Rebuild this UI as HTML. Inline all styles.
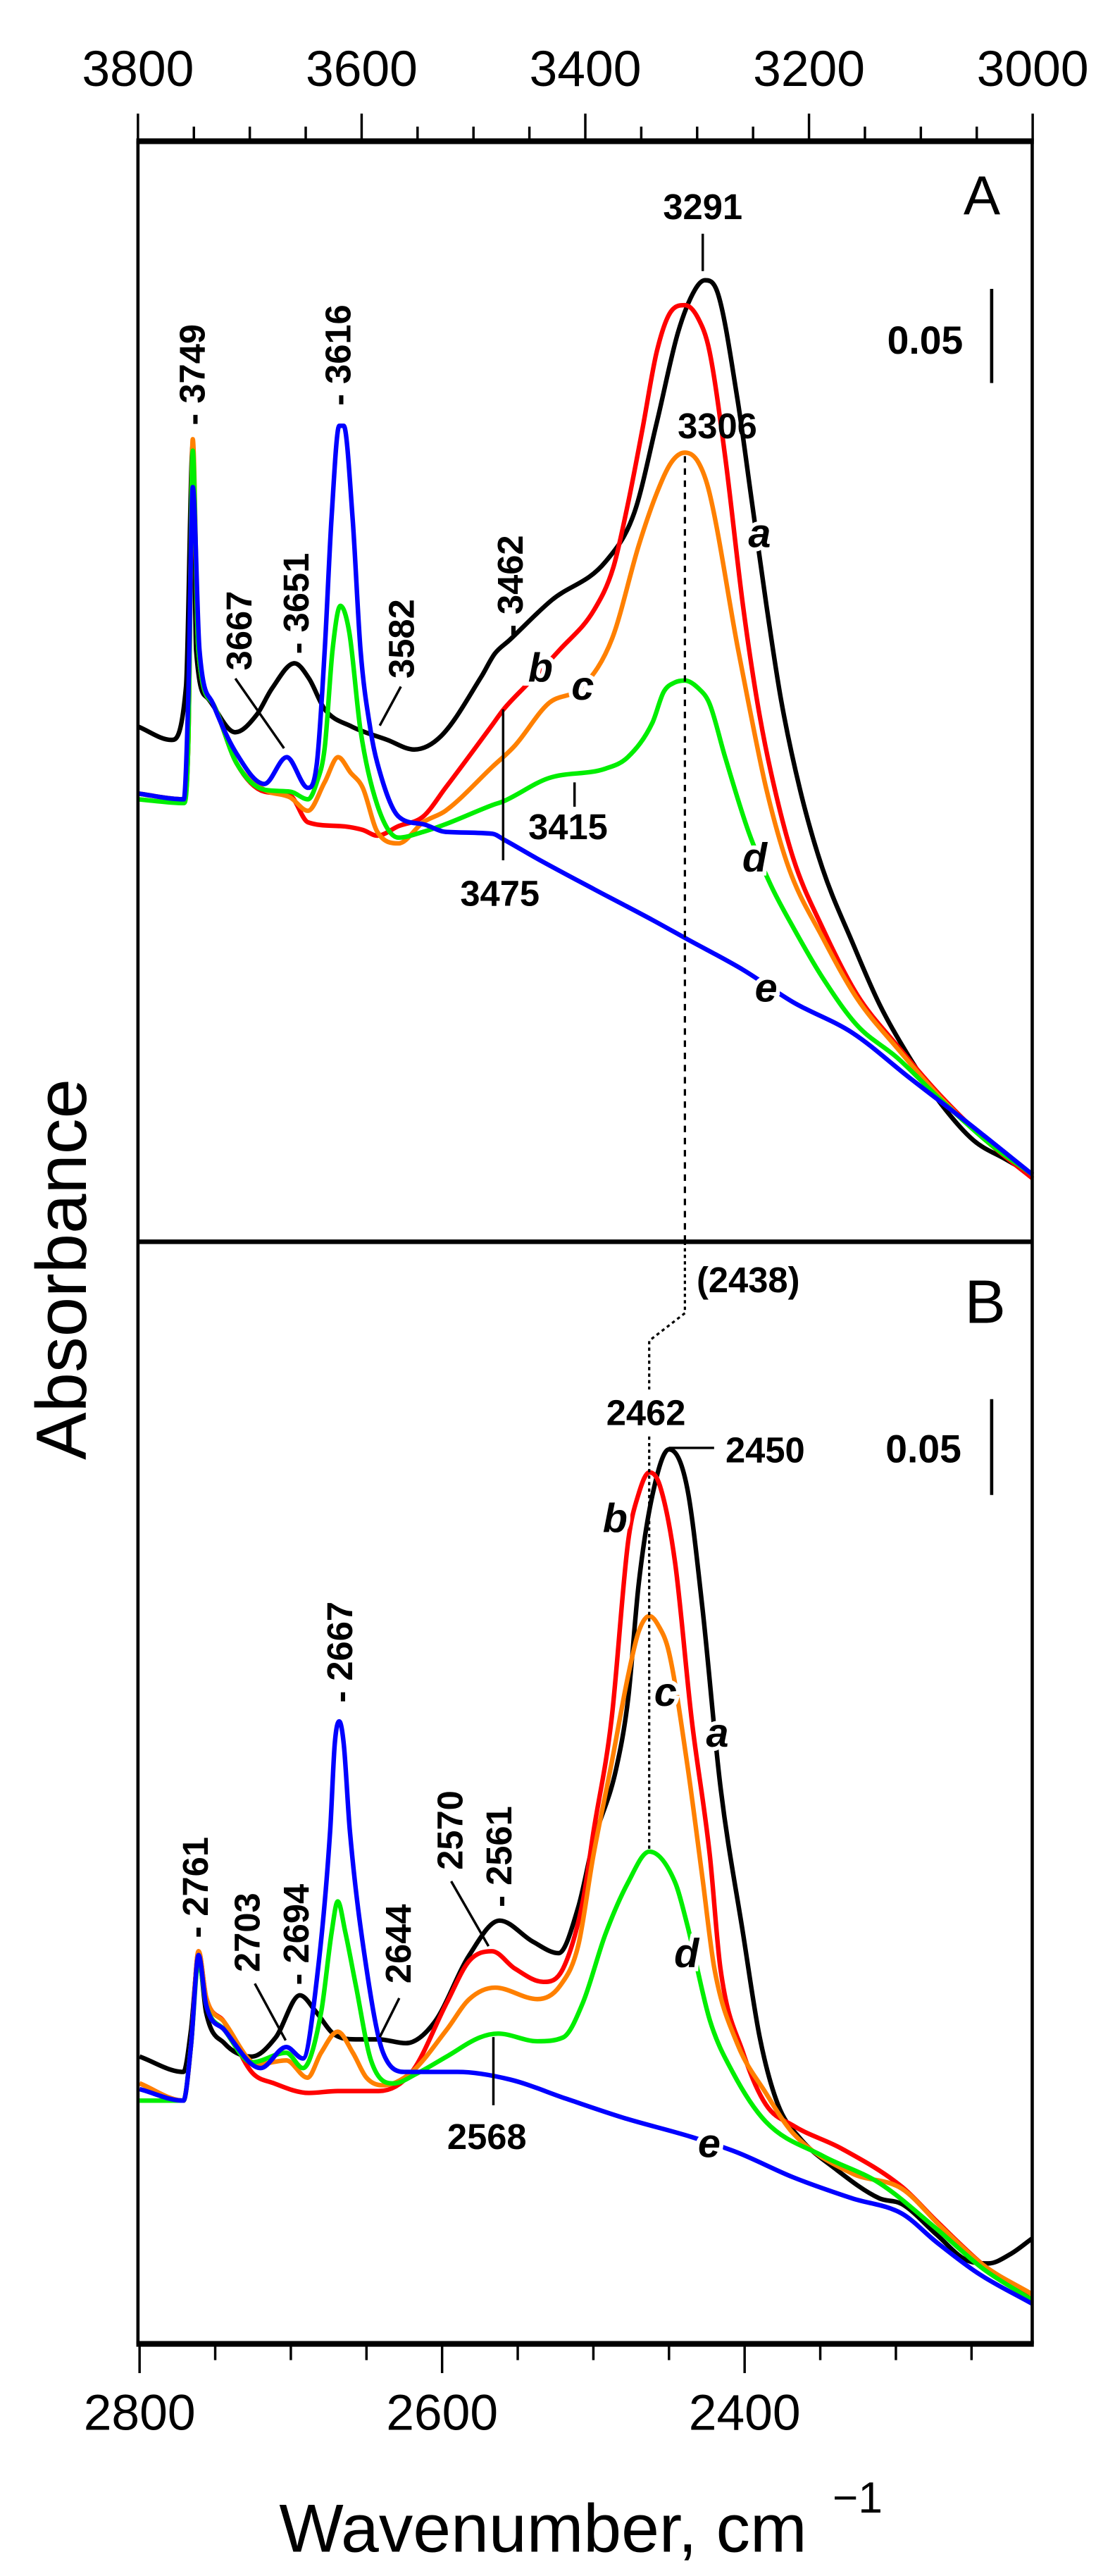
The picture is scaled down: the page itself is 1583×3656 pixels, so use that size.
<!DOCTYPE html>
<html><head><meta charset="utf-8"><style>
html,body{margin:0;padding:0;background:#fff;}
svg{display:block;}
text{font-family:"Liberation Sans",Arial,sans-serif;}
</style></head><body>
<svg id="chart" xmlns="http://www.w3.org/2000/svg" width="1583" height="3656" viewBox="0 0 687 1587" preserveAspectRatio="none">
<g id="curvesA"></g>
<g id="curvesB"></g>
<g id="axes"></g>
</svg>
<script>
// ---- Panel A data (wavenumber, absorbance) ----
const aA_w=[3800,3770,3757,3751,3748,3738,3713,3694,3680,3660,3647,3633,3609,3577,3553,3529,3493,3481,3468,3430,3382,3356,3336,3317,3302,3293,3282,3264,3251,3238,3225,3208,3188,3161,3137,3111,3082,3053,3024,3000];
const aA_v=[0.269,0.262,0.290,0.416,0.309,0.284,0.266,0.275,0.289,0.302,0.294,0.278,0.269,0.262,0.257,0.264,0.295,0.307,0.314,0.335,0.355,0.381,0.428,0.475,0.497,0.502,0.496,0.440,0.386,0.332,0.283,0.236,0.195,0.156,0.124,0.097,0.072,0.053,0.043,0.035];
const bA_w=[3800,3759,3755,3751,3746,3733,3712,3687,3664,3648,3619,3599,3586,3567,3545,3525,3483,3473,3452,3423,3392,3375,3362,3349,3336,3323,3311,3299,3289,3275,3259,3246,3234,3214,3188,3157,3122,3082,3038,3000];
const bA_v=[0.234,0.231,0.260,0.407,0.309,0.281,0.250,0.235,0.233,0.219,0.217,0.215,0.212,0.217,0.222,0.237,0.270,0.278,0.291,0.309,0.330,0.352,0.385,0.424,0.465,0.486,0.489,0.482,0.465,0.410,0.332,0.281,0.245,0.200,0.164,0.129,0.103,0.076,0.051,0.033];
const cA_w=[3800,3759,3755,3751,3746,3733,3712,3687,3664,3648,3633,3621,3610,3599,3586,3567,3545,3525,3483,3463,3433,3402,3376,3352,3336,3323,3311,3299,3289,3264,3254,3238,3218,3188,3157,3121,3082,3038,3000];
const cA_v=[0.234,0.231,0.260,0.419,0.309,0.281,0.250,0.236,0.232,0.225,0.240,0.253,0.245,0.237,0.214,0.208,0.219,0.225,0.248,0.259,0.281,0.290,0.315,0.364,0.391,0.407,0.412,0.407,0.391,0.311,0.281,0.236,0.195,0.159,0.127,0.101,0.075,0.051,0.035];
const dA_w=[3800,3759,3755,3751,3746,3733,3712,3687,3664,3648,3640,3633,3626,3619,3611,3601,3586,3567,3545,3525,3483,3473,3433,3382,3362,3340,3330,3320,3311,3299,3289,3275,3254,3234,3214,3188,3157,3121,3082,3038,3000];
const dA_v=[0.231,0.229,0.260,0.413,0.309,0.281,0.250,0.236,0.235,0.231,0.240,0.258,0.309,0.332,0.318,0.267,0.228,0.211,0.214,0.218,0.228,0.230,0.242,0.247,0.253,0.271,0.287,0.292,0.293,0.289,0.281,0.253,0.214,0.186,0.164,0.138,0.113,0.096,0.074,0.051,0.035];
const eA_w=[3800,3759,3755,3751,3745,3733,3712,3687,3667,3648,3640,3633,3627,3620,3616,3608,3601,3592,3586,3567,3545,3525,3483,3473,3443,3392,3340,3309,3259,3214,3161,3111,3060,3000];
const eA_v=[0.234,0.231,0.284,0.394,0.309,0.281,0.255,0.239,0.253,0.237,0.250,0.309,0.377,0.426,0.426,0.377,0.309,0.267,0.250,0.222,0.218,0.214,0.213,0.210,0.200,0.184,0.168,0.158,0.142,0.125,0.109,0.086,0.063,0.035];
// ---- Panel B data ----
const aB_w=[2800,2771,2766,2761,2756,2744,2726,2710,2694,2683,2672,2657,2642,2624,2605,2582,2562,2540,2523,2510,2500,2485,2477,2470,2461,2450,2438,2428,2416,2401,2390,2378,2363,2341,2311,2296,2273,2254,2239,2224,2210];
const aB_v=[0.150,0.142,0.164,0.202,0.173,0.157,0.150,0.160,0.182,0.173,0.162,0.159,0.159,0.157,0.168,0.203,0.221,0.210,0.204,0.228,0.262,0.300,0.337,0.397,0.443,0.467,0.447,0.385,0.291,0.214,0.160,0.125,0.107,0.092,0.076,0.073,0.057,0.044,0.042,0.047,0.055];
const bB_w=[2800,2771,2766,2761,2756,2744,2726,2711,2688,2669,2642,2620,2597,2582,2567,2552,2533,2520,2507,2500,2488,2477,2470,2463,2456,2446,2435,2423,2416,2401,2386,2368,2336,2296,2273,2242,2210];
const bB_v=[0.136,0.127,0.156,0.205,0.181,0.168,0.142,0.136,0.131,0.132,0.132,0.142,0.178,0.200,0.205,0.196,0.189,0.196,0.231,0.267,0.326,0.419,0.444,0.455,0.448,0.408,0.326,0.255,0.196,0.152,0.125,0.114,0.102,0.082,0.064,0.041,0.023];
const cB_w=[2800,2771,2766,2761,2756,2744,2722,2703,2689,2680,2669,2659,2650,2639,2620,2597,2582,2565,2537,2522,2510,2500,2488,2477,2470,2463,2457,2450,2438,2428,2420,2405,2386,2368,2329,2296,2270,2242,2210];
const cB_v=[0.136,0.127,0.156,0.205,0.181,0.168,0.146,0.148,0.139,0.152,0.163,0.152,0.139,0.135,0.142,0.164,0.180,0.186,0.180,0.187,0.208,0.255,0.303,0.349,0.372,0.380,0.375,0.361,0.303,0.244,0.196,0.157,0.131,0.110,0.089,0.081,0.061,0.041,0.026];
const dB_w=[2800,2771,2766,2761,2756,2744,2726,2703,2692,2680,2673,2669,2664,2657,2647,2632,2617,2597,2575,2563,2537,2520,2507,2492,2477,2463,2446,2438,2423,2408,2386,2348,2311,2273,2242,2210];
const dB_v=[0.127,0.127,0.156,0.200,0.177,0.164,0.147,0.152,0.144,0.173,0.215,0.231,0.215,0.187,0.148,0.136,0.141,0.150,0.160,0.162,0.158,0.160,0.178,0.214,0.241,0.257,0.241,0.219,0.169,0.142,0.116,0.098,0.084,0.060,0.039,0.023];
const eB_w=[2800,2771,2766,2761,2756,2744,2720,2703,2692,2682,2674,2671,2668,2665,2661,2650,2639,2624,2590,2555,2518,2480,2435,2405,2368,2329,2296,2273,2246,2210];
const eB_v=[0.133,0.127,0.156,0.203,0.177,0.164,0.144,0.155,0.149,0.196,0.268,0.313,0.325,0.313,0.268,0.196,0.152,0.142,0.142,0.138,0.128,0.118,0.108,0.100,0.087,0.076,0.068,0.053,0.037,0.021];
const topTicks=[3800,3600,3400,3200,3000];
const bottomTicks=[2800,2600,2400];
const colors=['#000000','#ff0000','#ff8000','#00ee00','#0000ff'];
const seriesNames=['a','b','c','d','e'];

const NS='http://www.w3.org/2000/svg';
function xA(w){return 85+(3800-w)*0.6891;}
function xB(w){return 86+(2800-w)*0.932;}
function yA(v){return 765-v*1180;}
function yB(v){return 1444-v*1180;}
function mk(tag,attrs,parent){const e=document.createElementNS(NS,tag);for(const k in attrs)e.setAttribute(k,attrs[k]);parent.appendChild(e);return e;}
function pathD(ws,vs,fx,fy){
  const X=ws.map(fx),Y=vs.map(fy),n=X.length;
  const d=[],m=new Array(n);
  for(let i=0;i<n-1;i++)d.push((Y[i+1]-Y[i])/(X[i+1]-X[i]));
  m[0]=d[0];m[n-1]=d[n-2];
  for(let i=1;i<n-1;i++){m[i]=(d[i-1]*d[i]<=0)?0:(d[i-1]+d[i])/2;}
  for(let i=0;i<n-1;i++){
    if(d[i]===0){m[i]=0;m[i+1]=0;continue;}
    const a=m[i]/d[i],b=m[i+1]/d[i],s=a*a+b*b;
    if(s>9){const t=3/Math.sqrt(s);m[i]=t*a*d[i];m[i+1]=t*b*d[i];}
  }
  let p='M'+X[0].toFixed(2)+','+Y[0].toFixed(2);
  for(let i=0;i<n-1;i++){
    const h=(X[i+1]-X[i])/3;
    p+='C'+(X[i]+h).toFixed(2)+','+(Y[i]+m[i]*h).toFixed(2)+' '+(X[i+1]-h).toFixed(2)+','+(Y[i+1]-m[i+1]*h).toFixed(2)+' '+X[i+1].toFixed(2)+','+Y[i+1].toFixed(2);
  }
  return p;
}
const gA=document.getElementById('curvesA'),gB=document.getElementById('curvesB');
const AW=[aA_w,bA_w,cA_w,dA_w,eA_w],AV=[aA_v,bA_v,cA_v,dA_v,eA_v];
const BW=[aB_w,bB_w,cB_w,dB_w,eB_w],BV=[aB_v,bB_v,cB_v,dB_v,eB_v];
for(let i=0;i<5;i++){
  const p=mk('path',{d:pathD(AW[i],AV[i],xA,yA),fill:'none',stroke:colors[i],'stroke-width':2.8,'stroke-linejoin':'round'},gA);
  
  
  const q=mk('path',{d:pathD(BW[i],BV[i],xB,yB),fill:'none',stroke:colors[i],'stroke-width':2.8,'stroke-linejoin':'round'},gB);
  
  
}
const ax=document.getElementById('axes');
let l;
l=mk('line',{x1:85,y1:87,x2:85,y2:1444,stroke:'#000','stroke-width':2},ax);


l=mk('line',{x1:636,y1:87,x2:636,y2:1444,stroke:'#000','stroke-width':2},ax);


l=mk('line',{x1:84,y1:87,x2:637,y2:87,stroke:'#000','stroke-width':3.5},ax);


l=mk('line',{x1:84,y1:1444,x2:637,y2:1444,stroke:'#000','stroke-width':3.5},ax);


l=mk('line',{x1:85,y1:765,x2:636,y2:765,stroke:'#000','stroke-width':2.8},ax);


for(let w=3800;w>=3000;w-=50){
  const maj=w%200===0;const x=xA(w);
  const t=mk('line',{x1:x,y1:87,x2:x,y2:maj?70:78,stroke:'#000','stroke-width':1.5},ax);
  
  
}
topTicks.forEach(w=>{
  const t=mk('text',{x:xA(w),y:53,'font-size':31,'text-anchor':'middle'},ax);t.textContent=w;
  
  
});
for(let w=2800;w>=2212;w-=50){
  const maj=w%200===0;const x=xB(w);
  const t=mk('line',{x1:x,y1:1444,x2:x,y2:maj?1462:1454,stroke:'#000','stroke-width':1.5},ax);
  
  
}
bottomTicks.forEach(w=>{
  const t=mk('text',{x:xB(w),y:1497,'font-size':31,'text-anchor':'middle'},ax);t.textContent=w;
  
  
});
</script>
<svg style="position:absolute;left:0;top:0" width="1583" height="3656" viewBox="0 0 687 1587" preserveAspectRatio="none" xmlns="http://www.w3.org/2000/svg">
<g font-family="Liberation Sans, Arial, sans-serif" fill="#000">
<text x="172" y="1572" font-size="42">Wavenumber, cm</text>
<text x="513" y="1548" font-size="27">−1</text>
<text x="53" y="782" font-size="44" text-anchor="middle" transform="rotate(-90 53 782)">Absorbance</text>
<text x="605" y="132" font-size="34" text-anchor="middle">A</text>
<text x="607" y="815" font-size="38" text-anchor="middle">B</text>
<g font-weight="bold" font-size="24">
<text x="570" y="218" text-anchor="middle">0.05</text>
<text x="569" y="901" text-anchor="middle">0.05</text>
</g>
<line x1="611" y1="178" x2="611" y2="236" stroke="#000" stroke-width="2"/>
<line x1="611" y1="862" x2="611" y2="921" stroke="#000" stroke-width="2"/>
<line x1="422" y1="281" x2="422" y2="765" stroke="#000" stroke-width="1.4" stroke-dasharray="4,3.5"/>
<polyline points="422,765 422,809 400,826 400,856" fill="none" stroke="#000" stroke-width="1.4" stroke-dasharray="2,2"/>
<line x1="400" y1="885" x2="400" y2="1141" stroke="#000" stroke-width="1.4" stroke-dasharray="2,2"/>
<g font-weight="bold" font-size="22">
<text x="433" y="135" text-anchor="middle">3291</text>
<text x="442" y="270" text-anchor="middle">3306</text>
<text x="308" y="558" text-anchor="middle">3475</text>
<text x="350" y="517" text-anchor="middle">3415</text>
<text transform="rotate(-90 126 262)" x="126" y="262">- 3749</text>
<text transform="rotate(-90 216 250)" x="216" y="250">- 3616</text>
<text transform="rotate(-90 155 413)" x="155" y="413">3667</text>
<text transform="rotate(-90 190 403)" x="190" y="403">- 3651</text>
<text transform="rotate(-90 255 418)" x="255" y="418">3582</text>
<text transform="rotate(-90 322 392)" x="322" y="392">- 3462</text>
<text x="398" y="878" text-anchor="middle">2462</text>
<text x="447" y="901">2450</text>
<text x="461" y="796" text-anchor="middle">(2438)</text>
<text x="300" y="1324" text-anchor="middle">2568</text>
<text transform="rotate(-90 128 1194)" x="128" y="1194">- 2761</text>
<text transform="rotate(-90 160 1215)" x="160" y="1215">2703</text>
<text transform="rotate(-90 190 1223)" x="190" y="1223">- 2694</text>
<text transform="rotate(-90 253 1222)" x="253" y="1222">2644</text>
<text transform="rotate(-90 285 1152)" x="285" y="1152">2570</text>
<text transform="rotate(-90 315 1175)" x="315" y="1175">- 2561</text>
<text transform="rotate(-90 217 1049)" x="217" y="1049">- 2667</text>
</g>
<g stroke="#000" stroke-width="1.5">
<line x1="433" y1="144" x2="433" y2="167"/>
<line x1="145" y1="418" x2="175" y2="461"/>
<line x1="247" y1="423" x2="234" y2="447"/>
<line x1="310" y1="437" x2="310" y2="530"/>
<line x1="354" y1="482" x2="354" y2="497"/>
<line x1="412" y1="892" x2="440" y2="892"/>
<line x1="157" y1="1222" x2="176" y2="1257"/>
<line x1="246" y1="1231" x2="234" y2="1255"/>
<line x1="278" y1="1159" x2="301" y2="1199"/>
<line x1="304" y1="1255" x2="304" y2="1297"/>
</g>
<g font-weight="bold" font-style="italic" font-size="25" text-anchor="middle" stroke="#fff" stroke-width="5" paint-order="stroke">
<text x="468" y="337">a</text>
<text x="333" y="420">b</text>
<text x="359" y="431">c</text>
<text x="465" y="537">d</text>
<text x="472" y="617">e</text>
<text x="442" y="1076">a</text>
<text x="379" y="944">b</text>
<text x="410" y="1051">c</text>
<text x="423" y="1212">d</text>
<text x="437" y="1329">e</text>
</g>
</g>
</svg>
</body></html>
